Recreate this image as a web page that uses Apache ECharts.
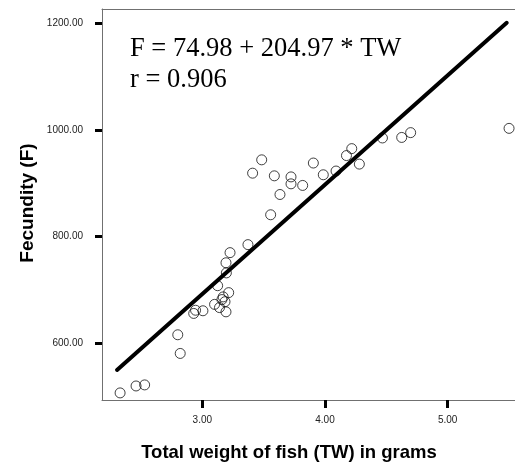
<!DOCTYPE html>
<html>
<head>
<meta charset="utf-8">
<script src="https://cdn.jsdelivr.net/npm/echarts@6/dist/echarts.min.js"></script>
<style>
html,body{margin:0;padding:0;background:#fff;}
#c{width:515px;height:467px;}
</style>
</head>
<body>
<div id="c"></div>
<script>
// Observed data: total weight of fish (TW, grams) vs fecundity (F)
var tw = [2.33, 2.46, 2.53, 2.80, 2.82, 2.93, 2.945, 3.005, 3.10, 3.14, 3.17, 3.16, 3.185, 3.215, 3.193, 3.125, 3.196, 3.193, 3.226, 3.372, 3.557, 3.41, 3.484, 3.587, 3.633, 3.723, 3.723, 3.818, 3.905, 3.986, 4.09, 4.175, 4.218, 4.28, 4.468, 4.625, 4.698, 5.50];
var fecundity = [507, 520, 522, 616, 581, 656, 662, 661, 673, 667, 687, 682, 678, 695, 659, 708, 732, 751, 770, 785, 841, 919, 944, 914, 879, 912, 899, 896, 938, 916, 923, 952, 965, 936, 985, 986, 995, 1003];
// Regression line endpoints (F = 74.98 + 204.97 * TW)
var lineTW = [2.305, 5.481];
var lineF = [550, 1201];
// Tick labels
var xTicks = [3, 4, 5];
var yTicks = [600, 800, 1000, 1200];
var equationText = 'F = 74.98 + 204.97 * TW';
var rText = 'r = 0.906';
var xTitle = 'Total weight of fish (TW) in grams';
var yTitle = 'Fecundity (F)';

var points = tw.map(function (v, i) { return [v, fecundity[i]]; });
var linePts = lineTW.map(function (v, i) { return [v, lineF[i]]; });

var chart = echarts.init(document.getElementById('c'), null, {renderer: 'canvas'});
var axisLineStyle = {color: '#707070', width: 1};
var labelStyle = {fontFamily: 'Liberation Sans, Arial, sans-serif', fontSize: 10, color: '#222'};
chart.setOption({
  animation: false,
  backgroundColor: '#fff',
  grid: {left: 102, top: 9, right: 0, bottom: 67, containLabel: false},
  xAxis: [{
    type: 'value', min: 2.1825, max: 5.5485, position: 'bottom',
    axisLine: {show: true, lineStyle: axisLineStyle},
    axisTick: {show: true, customValues: xTicks, length: 8, inside: false, lineStyle: {color: '#000', width: 3}},
    axisLabel: Object.assign({show: true, customValues: xTicks, margin: 15, formatter: function (v) { return v.toFixed(2); }}, labelStyle),
    splitLine: {show: false}
  }, {
    type: 'value', min: 2.1825, max: 5.5485, position: 'top',
    axisLine: {show: true, lineStyle: axisLineStyle},
    axisTick: {show: false}, axisLabel: {show: false}, splitLine: {show: false}
  }],
  yAxis: {
    type: 'value', min: 493.7, max: 1226.8,
    axisLine: {show: true, lineStyle: axisLineStyle},
    axisTick: {show: true, customValues: yTicks, length: 7, lineStyle: {color: '#000', width: 3}},
    axisLabel: Object.assign({show: true, customValues: yTicks, margin: 19, formatter: function (v) { return v.toFixed(2); }}, labelStyle),
    splitLine: {show: false}
  },
  series: [{
    type: 'scatter',
    data: points,
    symbol: 'circle',
    symbolSize: 10,
    itemStyle: {color: 'rgba(0,0,0,0)', borderColor: '#111', borderWidth: 1},
    z: 2
  }, {
    type: 'line',
    data: linePts,
    showSymbol: false,
    symbol: 'none',
    lineStyle: {color: '#000', width: 4, cap: 'round'},
    z: 3
  }],
  graphic: [{
    type: 'text', x: 130, y: 49,
    style: {text: equationText, font: '26.5px "Liberation Serif", "Times New Roman", serif', fill: '#000', verticalAlign: 'middle'}
  }, {
    type: 'text', x: 130, y: 80,
    style: {text: rText, font: '26.5px "Liberation Serif", "Times New Roman", serif', fill: '#000', verticalAlign: 'middle'}
  }, {
    type: 'text', x: 289, y: 453,
    style: {text: xTitle, font: 'bold 18.5px "Liberation Sans", Arial, sans-serif', fill: '#000', align: 'center', verticalAlign: 'middle'}
  }, {
    type: 'text', x: 28, y: 203, rotation: Math.PI / 2,
    style: {text: yTitle, font: 'bold 19px "Liberation Sans", Arial, sans-serif', fill: '#000', align: 'center', verticalAlign: 'middle'}
  }]
});
</script>
</body>
</html>
